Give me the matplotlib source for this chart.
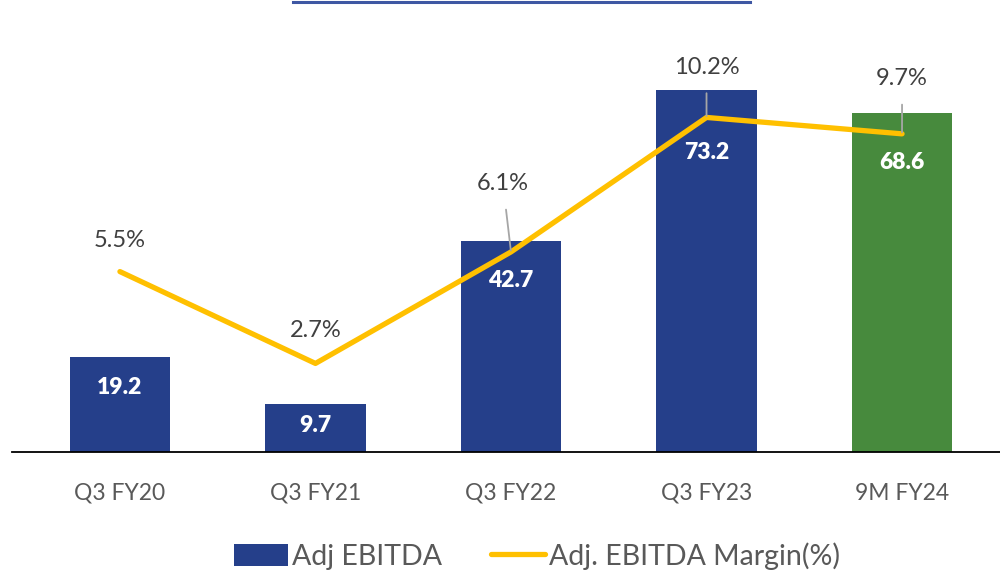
import matplotlib
matplotlib.use("Agg")
import matplotlib.pyplot as plt
from matplotlib.lines import Line2D
from matplotlib.patches import Patch

plt.rcParams['font.family'] = ['Lato', 'DejaVu Sans']

categories = ["Q3 FY20", "Q3 FY21", "Q3 FY22", "Q3 FY23", "9M FY24"]
ebitda = [19.2, 9.7, 42.7, 73.2, 68.6]
margin = [5.5, 2.7, 6.1, 10.2, 9.7]
bar_colors = ["#253F8A", "#253F8A", "#253F8A", "#253F8A", "#478A3D"]

W, H = 1000, 574
fig = plt.figure(figsize=(W / 100, H / 100), dpi=100)

# axes: left edge x=12 px, baseline y=452 px, top y=0
ax = fig.add_axes([12 / W, (H - 452) / H, (W - 12) / W, 452 / H])
ax2 = ax.twinx()

x = list(range(len(categories)))
ax.bar(x, ebitda, width=0.512, color=bar_colors, zorder=2)
ax.set_xlim(-0.552, 4.501)
ax.set_ylim(0, 452 / 4.94)
ax2.set_ylim(0, 452 / 32.8)

ax2.plot(x, margin, color="#FFC000", lw=3.8, solid_capstyle="round",
         solid_joinstyle="round", zorder=3)

for a in (ax, ax2):
    for s in a.spines.values():
        s.set_visible(False)
    a.set_yticks([])
ax.spines['bottom'].set_visible(True)
ax.spines['bottom'].set_color("#000000")
ax.spines['bottom'].set_linewidth(1.3)
ax.tick_params(axis='x', length=0, pad=22, labelsize=16.5, labelcolor="#595959")
ax.set_xticks(x)
ax.set_xticklabels(categories)

# bar value labels (offset below bar top, in px)
label_drop = [30, 21, 39, 62, 49]
for xi, v, d in zip(x, ebitda, label_drop):
    ax2.annotate(f"{v:.1f}", xy=(xi, v), xycoords=ax.transData,
                 xytext=(0, -d * 0.72), textcoords="offset points",
                 ha="center", va="center", color="white", fontsize=16.5,
                 fontweight="heavy", zorder=5)

# margin labels (offset above point in px) and leader lines
label_rise = [31, 33, 68, 50, 55]
label_dx = [0, 0, -8, 0, 0]
leaders = [False, False, True, True, True]
for xi, m, r, dx, ld in zip(x, margin, label_rise, label_dx, leaders):
    ax2.annotate(f"{m:.1f}%", xy=(xi, m), xytext=(dx * 0.72, r * 0.72),
                 textcoords="offset points", ha="center", va="center",
                 color="#404040", fontsize=17, zorder=6,
                 arrowprops=dict(arrowstyle="-", color="#A6A6A6", lw=1.3,
                                 shrinkA=9, shrinkB=1) if ld else None)

# top decorative line
fig.add_artist(Line2D([293 / W, 750 / W], [1 - 1.5 / H, 1 - 1.5 / H],
                      color="#3E57A3", lw=2.2, transform=fig.transFigure))

handles = [Patch(facecolor="#253F8A", edgecolor="none"),
           Line2D([0], [0], color="#FFC000", lw=3.8, solid_capstyle="round")]
fig.legend(handles, ["Adj EBITDA", "Adj. EBITDA Margin(%)"], loc="center",
           bbox_to_anchor=(0.537, 1 - 556 / H), ncol=2, frameon=False,
           fontsize=20.5, handlelength=1.9, handleheight=0.85, handletextpad=0.15,
           columnspacing=1.7, labelcolor="#595959")

fig.savefig("out.png", dpi=100)
